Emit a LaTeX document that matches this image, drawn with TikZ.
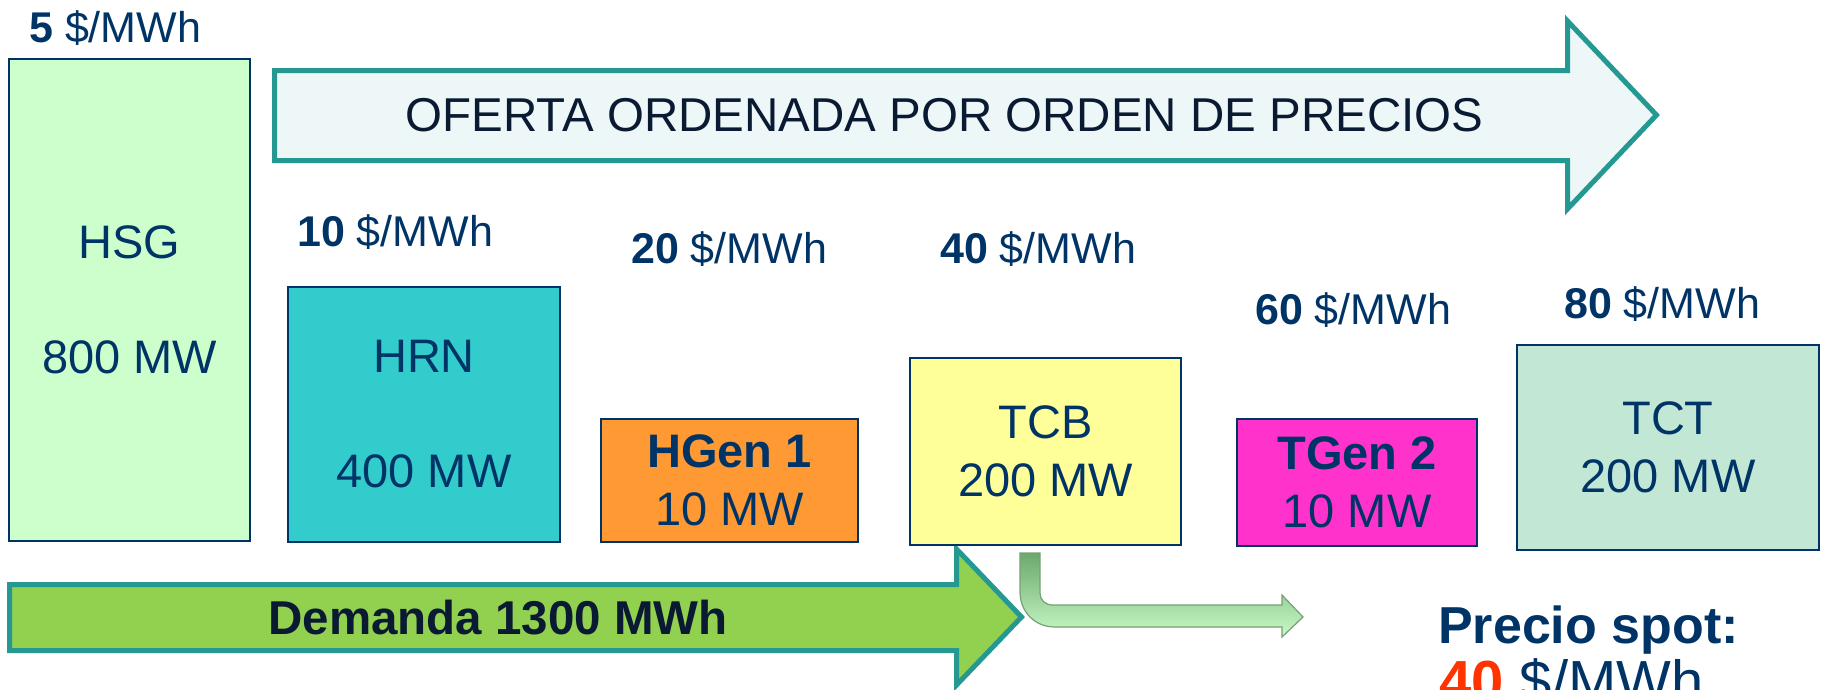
\documentclass[tikz,border=0pt]{standalone}
\usepackage{fontspec}
\setmainfont{Liberation Sans}
\definecolor{navy}{RGB}{0,51,102}
\definecolor{darktext}{RGB}{10,26,50}
\definecolor{tealline}{RGB}{38,152,146}
\definecolor{ofertafill}{RGB}{238,247,248}
\definecolor{demandafill}{RGB}{146,208,80}
\definecolor{hsgfill}{RGB}{204,255,204}
\definecolor{hrnfill}{RGB}{51,204,204}
\definecolor{hgenfill}{RGB}{255,153,51}
\definecolor{tcbfill}{RGB}{255,255,153}
\definecolor{tgenfill}{RGB}{255,51,204}
\definecolor{tctfill}{RGB}{194,231,213}
\definecolor{spotred}{RGB}{255,51,0}
\definecolor{bendtop}{RGB}{108,168,108}
\definecolor{bendbot}{RGB}{200,250,200}
\definecolor{bendline}{RGB}{118,160,118}
\begin{document}
\begin{tikzpicture}[x=1pt,y=-1pt,
  genbox/.style={draw=navy, line width=2.2pt, inner sep=0pt, align=center,
    text=navy, font=\fontsize{47}{58}\selectfont},
  pricelbl/.style={anchor=base west, text=navy, inner sep=0pt,
    font=\fontsize{43}{50}\selectfont},
  blockarrow/.style={draw=tealline, line width=5pt, line join=miter},
  bigtext/.style={text=darktext, inner sep=0pt, font=\fontsize{47.5}{56}\selectfont}
]
\useasboundingbox (0,0) rectangle (1836,689);
\clip (0,0) rectangle (1836,689);

% OFERTA arrow
\path[blockarrow, fill=ofertafill]
  (274.5,70.5) -- (1567.5,70.5) -- (1567.5,21) -- (1656.5,115)
  -- (1567.5,209) -- (1567.5,160.5) -- (274.5,160.5) -- cycle;
\node[bigtext] (oferta) at (944.5,115) {OFERTA ORDENADA POR ORDEN DE PRECIOS};

% Demanda arrow
\path[blockarrow, fill=demandafill]
  (9.5,584.5) -- (956.5,584.5) -- (956.5,549) -- (1021.5,617)
  -- (956.5,685) -- (956.5,650.5) -- (9.5,650.5) -- cycle;
\node[bigtext, font=\bfseries\fontsize{47.5}{56}\selectfont] (demanda) at (498,618) {Demanda 1300 MWh};

% generator boxes
\node[genbox, fill=hsgfill, minimum width=241, minimum height=482] (hsg) at (129.5,300) {HSG\\[57pt]800 MW};
\node[genbox, fill=hrnfill, minimum width=272, minimum height=255] (hrn) at (424,414.5) {HRN\\[57pt]400 MW};
\node[genbox, fill=hgenfill, minimum width=257, minimum height=123] (hgen) at (729.5,480.5) {\textbf{HGen 1}\\10 MW};
\node[genbox, fill=tcbfill, minimum width=271, minimum height=187] (tcb) at (1045.5,451.5) {TCB\\200 MW};
\node[genbox, fill=tgenfill, minimum width=240, minimum height=127] (tgen) at (1357,482.5) {\textbf{TGen 2}\\10 MW};
\node[genbox, fill=tctfill, minimum width=302, minimum height=205] (tct) at (1668,447.5) {TCT\\200 MW};

% price labels
\node[pricelbl] (p5) at (29,42) {\textbf{5} \$/MWh};
\node[pricelbl] (p10) at (297,246) {\textbf{10} \$/MWh};
\node[pricelbl] (p20) at (631,263) {\textbf{20} \$/MWh};
\node[pricelbl] (p40) at (940,263) {\textbf{40} \$/MWh};
\node[pricelbl] (p60) at (1255,324) {\textbf{60} \$/MWh};
\node[pricelbl] (p80) at (1564,318) {\textbf{80} \$/MWh};

% bent arrow from TCB
\path[draw=bendline, line width=1.2pt, top color=bendtop, bottom color=bendbot]
  (1020,553) -- (1040,553) -- (1040,593)
  .. controls (1040,600) and (1045,605) .. (1053,605)
  -- (1282,605) -- (1282,595) -- (1303,617) -- (1282,637) -- (1282,627)
  -- (1055,627) .. controls (1035,627) and (1020,612) .. (1020,592) -- cycle;

% spot price
\node[anchor=base west, inner sep=0pt, text=navy, font=\bfseries\fontsize{52}{60}\selectfont] (spot) at (1438,643) {Precio spot:};
\node[anchor=base west, inner sep=0pt, text=navy, font=\fontsize{58}{64}\selectfont] (spotval) at (1439,701) {\textbf{\textcolor{spotred}{40}} \$/MWh};
\end{tikzpicture}
\end{document}
